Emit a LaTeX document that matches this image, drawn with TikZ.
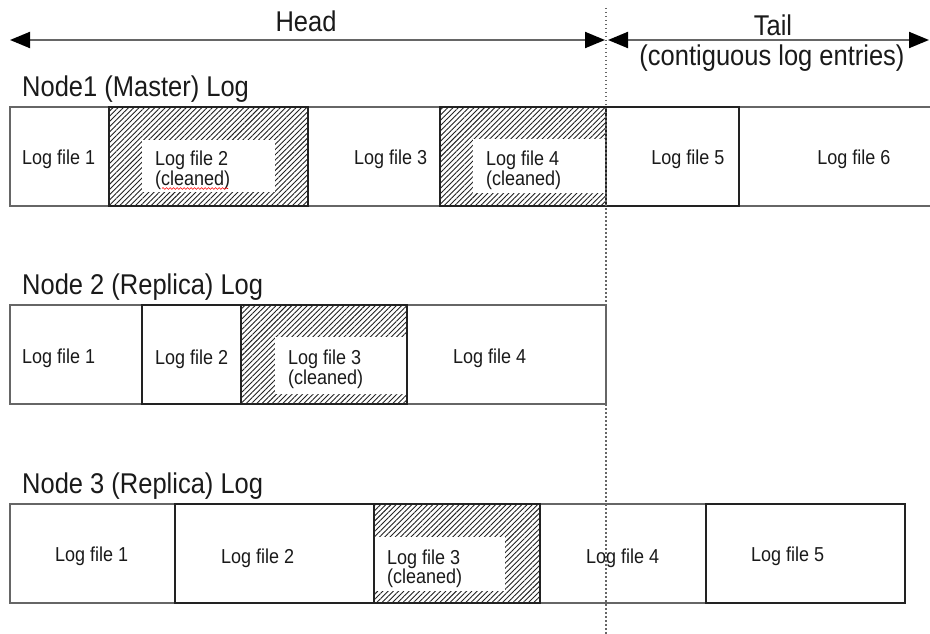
\documentclass[tikz,border=0pt]{standalone}
\usepackage{fontspec}
\usepackage{graphicx}
\setmainfont{Liberation Sans}
\usetikzlibrary{arrows.meta,patterns.meta,decorations.pathmorphing}
\definecolor{lightedge}{HTML}{666666}
\definecolor{darkedge}{HTML}{222222}
\definecolor{txt}{HTML}{1A1A1A}
\newcommand{\tallsmall}[1]{\scalebox{1}[1.12]{\fontsize{18}{20}\selectfont #1}}
\newcommand{\tallbig}[1]{\scalebox{1}[1.12]{\fontsize{25.5}{28}\selectfont #1}}
\begin{document}
\begin{tikzpicture}[x=1pt,y=-1pt,
  filebox/.style={draw=lightedge,line width=1.4pt,fill=white},
  darkbox/.style={draw=darkedge,line width=1.8pt},
  hatchbox/.style={draw=darkedge,line width=1.8pt,pattern={Lines[angle=45,distance=3.7pt,line width=0.9pt]},pattern color=darkedge},
  clearpart/.style={fill=white,draw=none},
  small/.style={inner sep=0pt,text=txt,anchor=base west},
  big/.style={inner sep=0pt,text=txt},
  span/.style={draw=lightedge,line width=2pt,{Triangle[length=20pt,width=16pt,color=black]}-{Triangle[length=20pt,width=16pt,color=black]}},
  divider/.style={draw=lightedge,line width=1.2pt,dash pattern=on 1.5pt off 2.5pt}
]
\useasboundingbox (0,0) rectangle (930,634);
\fill[white] (0,0) rectangle (930,634);

% ---------- Row 1 ----------
\draw[filebox] (10,107) rectangle (109,206);
\draw[filebox] (308,107) rectangle (440,206);
\draw[filebox] (739,107) rectangle (935,206);
\draw[hatchbox] (109,107) rectangle (308,206);
\fill[clearpart] (142,140) rectangle (275,192);
\draw[hatchbox] (440,107) rectangle (606,206);
\fill[clearpart] (473,139) rectangle (605,193);
\draw[darkbox] (606,107) rectangle (739,206);

% ---------- Row 2 ----------
\draw[filebox] (10,305) rectangle (142,404);
\draw[filebox] (407,305) rectangle (606,404);
\draw[darkbox] (142,305) rectangle (241,404);
\draw[hatchbox] (241,305) rectangle (407,404);
\fill[clearpart] (275,337) rectangle (406,394);

% ---------- Row 3 ----------
\draw[filebox] (10,504) rectangle (175,603);
\draw[filebox] (540,504) rectangle (706,603);
\draw[darkbox] (175,504) rectangle (374,603);
\draw[hatchbox] (374,504) rectangle (540,603);
\fill[clearpart] (375,537) rectangle (505,591);
\draw[darkbox] (706,504) rectangle (905,603);

% ---------- divider ----------
\coordinate (dtop) at (606,8);
\coordinate (dbot) at (606,634);
\draw[divider] (dtop) -- (dbot);

% ---------- spans ----------
\coordinate (hl) at (10,40);
\coordinate (hr) at (605,40);
\coordinate (tl) at (608,40);
\coordinate (tr) at (929,40);
\draw[span] (hl) -- (hr);
\draw[span] (tl) -- (tr);

\node[big,anchor=base] (head) at (306,32) {\tallbig{Head}};
\node[big,anchor=base] (tail) at (773,36) {\tallbig{Tail}};
\node[big,anchor=base] (tailsub) at (772,66) {\tallbig{(contiguous log entries)}};

\node[big,anchor=base west] (n1) at (22,96.5) {\tallbig{Node1 (Master) Log}};
\node[big,anchor=base west] (n2) at (22,294.5) {\tallbig{Node 2 (Replica) Log}};
\node[big,anchor=base west] (n3) at (22,493.5) {\tallbig{Node 3 (Replica) Log}};

% ---------- row 1 labels ----------
\node[small] (a1) at (22,164.5) {\tallsmall{Log file 1}};
\node[small] (a2) at (155,165.5) {\tallsmall{Log file 2}};
\node[small] (a2c) at (155,185) {\tallsmall{(cleaned)}};
\node[small] (a3) at (354,164.5) {\tallsmall{Log file 3}};
\node[small] (a4) at (486,165.5) {\tallsmall{Log file 4}};
\node[small] (a4c) at (486,185) {\tallsmall{(cleaned)}};
\node[small,anchor=base] (a5) at (688,164.5) {\tallsmall{Log file 5}};
\node[small,anchor=base] (a6) at (854,164.5) {\tallsmall{Log file 6}};
\coordinate (sqa) at (162,188.5);
\coordinate (sqb) at (228,188.5);
\draw[red,line width=0.6pt,decorate,decoration={snake,amplitude=0.9pt,segment length=3.5pt}] (sqa) -- (sqb);

% ---------- row 2 labels ----------
\node[small] (b1) at (22,363.5) {\tallsmall{Log file 1}};
\node[small] (b2) at (155,364.5) {\tallsmall{Log file 2}};
\node[small] (b3) at (288,364.5) {\tallsmall{Log file 3}};
\node[small] (b3c) at (288,384) {\tallsmall{(cleaned)}};
\node[small] (b4) at (453,363.5) {\tallsmall{Log file 4}};

% ---------- row 3 labels ----------
\node[small] (c1) at (55,561.5) {\tallsmall{Log file 1}};
\node[small] (c2) at (221,563.5) {\tallsmall{Log file 2}};
\node[small] (c3) at (387,564) {\tallsmall{Log file 3}};
\node[small] (c3c) at (387,583.5) {\tallsmall{(cleaned)}};
\node[small] (c4) at (586,563.5) {\tallsmall{Log file 4}};
\node[small] (c5) at (751,561.5) {\tallsmall{Log file 5}};
\end{tikzpicture}
\end{document}
